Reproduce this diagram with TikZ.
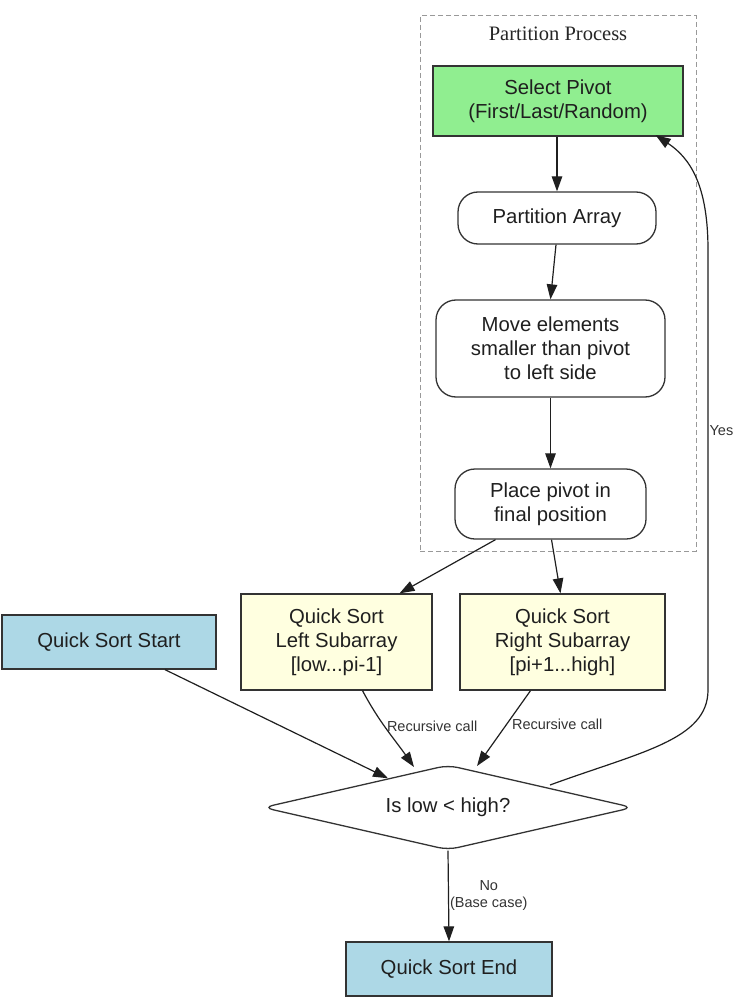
\documentclass[tikz,border=0pt]{standalone}
\usepackage{fontspec}
\setmainfont{Liberation Sans}
\newfontfamily\serifcl{Liberation Serif}
\usetikzlibrary{shapes.geometric,arrows.meta}
\definecolor{lgreen}{HTML}{90EE90}
\definecolor{lyellow}{HTML}{FFFFE0}
\definecolor{lblue}{HTML}{ADD8E6}
\definecolor{bord}{HTML}{333333}
\begin{document}
\begin{tikzpicture}[x=1pt,y=-1pt,
  base/.style={draw=bord,line width=1.3pt,inner sep=2pt,align=center,
    font=\fontsize{20.3}{24}\selectfont,text=black!88},
  sq/.style={base,rectangle},
  rnd/.style={base,rectangle,rounded corners=20pt},
  conn/.style={line width=1.2pt,draw=black!88,-{Triangle[length=15pt,width=10.5pt]}},
  elab/.style={font=\fontsize{14.5}{17}\selectfont,text=black!80,align=center,inner sep=1pt}]
\useasboundingbox (0,0) rectangle (736,1000);
% cluster
\node[draw=black!40,dashed,dash pattern=on 5pt off 3pt,line width=1pt,minimum width=276pt,minimum height=535pt,inner sep=0] (clu) at (558,283.5) {};
\node[font=\serifcl\fontsize{20.5}{24}\selectfont,text=black!85] (clulab) at (558,34) {Partition Process};
% nodes
\node[sq,fill=lgreen,minimum width=250pt,minimum height=70pt] (sel) at (558,101) {Select Pivot\\(First/Last/Random)};
\node[rnd,minimum width=198pt,minimum height=52pt] (part) at (557,218) {Partition Array};
\node[rnd,minimum width=229pt,minimum height=97pt] (move) at (550.5,348.5) {Move elements\\smaller than pivot\\to left side};
\node[rnd,minimum width=191pt,minimum height=70pt] (place) at (550.5,504) {Place pivot in\\final position};
\node[sq,fill=lyellow,minimum width=191pt,minimum height=96pt] (left) at (336.5,642) {Quick Sort\\Left Subarray\\{[low...pi-1]}};
\node[sq,fill=lyellow,minimum width=205pt,minimum height=96pt] (right) at (562.5,642) {Quick Sort\\Right Subarray\\{[pi+1...high]}};
\node[sq,fill=lblue,minimum width=214pt,minimum height=54pt] (start) at (109,642) {Quick Sort Start};
\node[base,diamond,aspect=4.35,minimum width=370pt,minimum height=85pt,inner sep=0pt,rounded corners=10pt] (dia) at (448,807.5) {Is low < high?};
\node[sq,fill=lblue,minimum width=206pt,minimum height=54pt] (end) at (449,969) {Quick Sort End};
% edges
\draw[conn] (sel.south -| 557,0) -- (part.north -| 557,0);
\draw[conn] ([xshift=-1pt]part.south) -- (move.north);
\draw[conn] (move.south) -- (place.north);
\draw[conn] ([xshift=-55pt]place.south) -- ([xshift=63pt]left.north);
\draw[conn] ([xshift=1pt]place.south) -- ([xshift=-2pt]right.north);
\draw[conn] ([xshift=56pt]start.south) -- (dia);
\draw[conn] ([xshift=26pt]left.south) to[out=-62,in=125] node[elab,pos=0.45,right=1pt] {Recursive call} (414,767);
\draw[conn] ([xshift=-32pt]right.south) -- node[elab,pos=0.45,right=4pt] {Recursive call} (477,766);
\coordinate (ya) at (708,690);
\coordinate (yb) at (708,250);
\draw[conn] (550,785) .. controls (640,752) and (708,740) .. (ya) -- node[elab,pos=0.59,right=0pt] {Yes} (yb) .. controls (708,185) and (690,158) .. ([xshift=-28pt,yshift=1.5pt]sel.south east);
\draw[conn] (dia.south) -- node[elab,pos=0.5,right=0pt] {No\\(Base case)} (end.north);
\end{tikzpicture}
\end{document}
